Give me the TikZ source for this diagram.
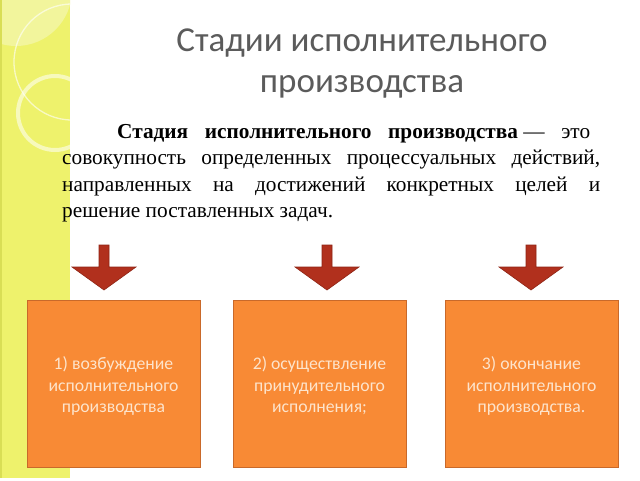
\documentclass[tikz,border=0pt]{standalone}
\usepackage{fontspec}
\setmainfont{Liberation Serif}
\newfontfamily\titlefont{Carlito}
\definecolor{stripY}{HTML}{EEF26C}
\definecolor{stripL}{HTML}{F2F59C}
\definecolor{stripedge}{HTML}{D9DE55}
\definecolor{titlegray}{HTML}{5B5B5B}
\definecolor{boxorange}{HTML}{F88A35}
\definecolor{boxedge}{HTML}{C9692A}
\definecolor{arrowred}{HTML}{B1301D}
\definecolor{arrowedge}{HTML}{8E2414}
\definecolor{boxtext}{HTML}{FDE4CC}
\tikzset{
  stagebox/.style={fill=boxorange, draw=boxedge, line width=0.8pt},
  stagetext/.style={font=\titlefont\fontsize{17.7}{21.5}\selectfont, text=boxtext, align=center},
  bodyline/.style={anchor=base west, inner sep=0pt, font=\fontsize{21.3}{26}\selectfont},
  titleline/.style={anchor=base, inner sep=0pt, font=\titlefont\fontsize{35}{40}\selectfont, text=titlegray},
  blockarrow/.style={fill=arrowred, draw=arrowedge, line width=0.6pt, line join=miter}
}
\begin{document}
\begin{tikzpicture}[x=1pt,y=-1pt]
\useasboundingbox (0,0) rectangle (640,480);
\fill[white] (0,0) rectangle (640,480);
% decorative strip
\begin{scope}
\clip (0,0) rectangle (70,478);
\fill[stripY] (0,0) rectangle (70,478);
\fill[stripL] (16,-10) circle (56);
\fill[stripedge] (0,0) rectangle (1.5,478);
\draw[white, opacity=.6, line width=1.3pt] (72,62) circle (58);
\draw[white, opacity=.55, line width=4pt] (55,113) circle (37);
\end{scope}
% title
\node[titleline] (title1) at (362,51) {Стадии исполнительного};
\node[titleline] (title2) at (362,92) {производства};
% body text
\node[bodyline] (l1) at (117,138) {\hbox to 473pt{\bfseries Стадия\hfill исполнительного\hfill производства\mdseries\ —\hfill это}};
\node[bodyline] (l2) at (62,164.5) {\hbox to 538pt{совокупность\hfill определенных\hfill процессуальных\hfill действий,}};
\node[bodyline] (l3) at (62,191) {\hbox to 538pt{направленных\hfill на\hfill достижений\hfill конкретных\hfill целей\hfill и}};
\node[bodyline] (l4) at (62,217) {решение поставленных задач.};
% arrows
\foreach \c/\n in {104/a1, 327/a2, 531/a3}{
  \draw[blockarrow] (\c-5,245) -- (\c+5,245) -- (\c+5,267) -- (\c+32,267) -- (\c,290) -- (\c-32,267) -- (\c-5,267) -- cycle;
}
% boxes
\draw[stagebox] (27,300) rectangle (200,467);
\draw[stagebox] (233,300) rectangle (406,467);
\draw[stagebox] (445,300) rectangle (618,467);
\node[stagetext] (b1) at (113.5,386) {1) возбуждение\\исполнительного\\производства};
\node[stagetext] (b2) at (319.5,386) {2) осуществление\\принудительного\\исполнения;};
\node[stagetext] (b3) at (531.5,386) {3) окончание\\исполнительного\\производства.};
\end{tikzpicture}
\end{document}
